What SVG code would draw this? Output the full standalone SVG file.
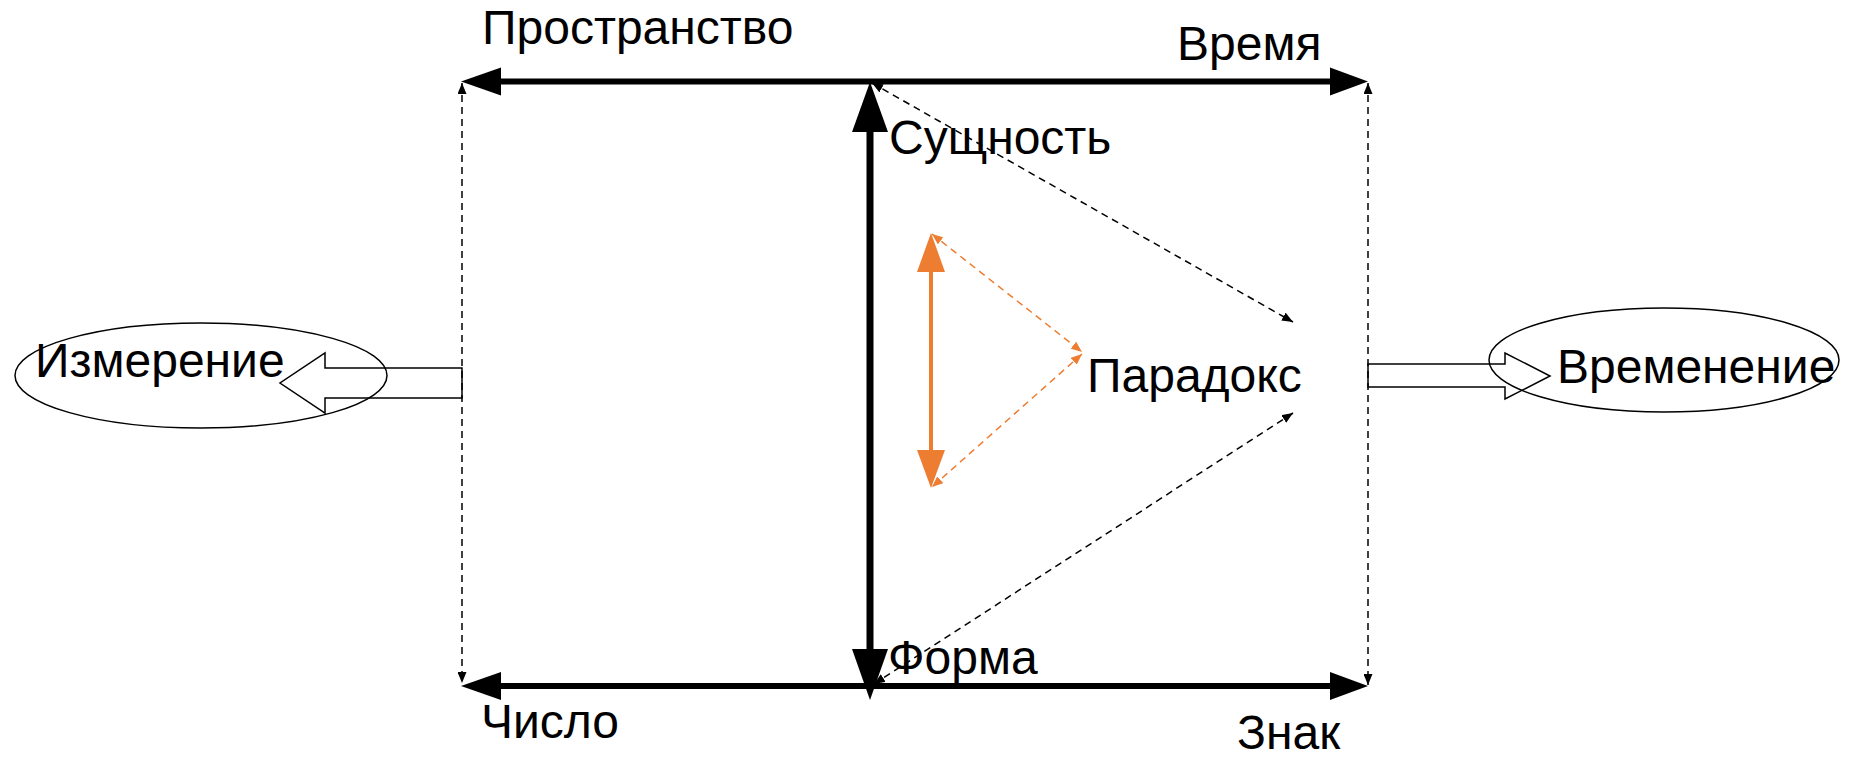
<svg xmlns="http://www.w3.org/2000/svg" width="1854" height="761" viewBox="0 0 1854 761">
<style>
text{font-family:"Liberation Sans",Arial,sans-serif;font-size:48px;fill:#000}
.thick{stroke:#000;fill:none}
.head{fill:#000;stroke:none}
.ohead{fill:#ED7D31;stroke:none}
.dash{stroke:#000;stroke-width:1.5;stroke-dasharray:7 5;fill:none}
.odash{stroke:#ED7D31;stroke-width:1.5;stroke-dasharray:7 5;fill:none}
.ell{fill:none;stroke:#000;stroke-width:1.5}
.block{fill:none;stroke:#000;stroke-width:1.5}
</style>
<defs>
<marker id="ah" markerUnits="userSpaceOnUse" markerWidth="11" markerHeight="9" refX="11" refY="4.5" orient="auto-start-reverse"><path d="M0,0 L11,4.5 L0,9 z" fill="#000"/></marker>
<marker id="oah" markerUnits="userSpaceOnUse" markerWidth="11" markerHeight="9" refX="11" refY="4.5" orient="auto-start-reverse"><path d="M0,0 L11,4.5 L0,9 z" fill="#ED7D31"/></marker>
</defs>
<rect width="1854" height="761" fill="#fff"/>
<g id="connectors">
<line class="thick" stroke-width="6" x1="500" y1="81.5" x2="1331" y2="81.5"/>
<polygon class="head" points="461,81.5 501,67.5 501,95.5"/>
<polygon class="head" points="1368,81.5 1330,67.5 1330,95.5"/>
<line class="thick" stroke-width="6" x1="500" y1="686" x2="1331" y2="686"/>
<polygon class="head" points="461,686 501,672 501,700"/>
<polygon class="head" points="1368,686 1330,672 1330,700"/>
<line class="thick" stroke-width="7" x1="870" y1="131" x2="870" y2="650"/>
<polygon class="head" points="870,82 852,132 888,132"/>
<polygon class="head" points="870,700 852,649 888,649"/>
<line class="dash" x1="462" y1="83" x2="462" y2="683" marker-start="url(#ah)" marker-end="url(#ah)"/>
<line class="dash" x1="1368" y1="83" x2="1368" y2="685" marker-start="url(#ah)" marker-end="url(#ah)"/>
<line class="dash" x1="872" y1="83" x2="1293" y2="322" marker-start="url(#ah)" marker-end="url(#ah)"/>
<line class="dash" x1="1293" y1="413" x2="874" y2="684" marker-start="url(#ah)" marker-end="url(#ah)"/>
<line stroke="#ED7D31" stroke-width="4" x1="931" y1="270" x2="931" y2="451"/>
<polygon class="ohead" points="931,233 917,272 945,272"/>
<polygon class="ohead" points="931,488 917,450 945,450"/>
<line class="odash" x1="932" y1="234" x2="1082" y2="352" marker-start="url(#oah)" marker-end="url(#oah)"/>
<line class="odash" x1="1082" y1="354" x2="932" y2="487" marker-start="url(#oah)" marker-end="url(#oah)"/>
<polygon class="block" points="462,368 325,368 325,353 280,383 325,413 325,398 462,398"/>
<polygon class="block" points="1368,364 1505,364 1505,353 1550,376 1505,399 1505,387 1368,387"/>
</g>
<g id="prostranstvo"><text x="482" y="44">Пространство</text></g>
<g id="vremya"><text x="1177" y="60">Время</text></g>
<g id="sushchnost"><text x="889" y="154">Сущность</text></g>
<g id="paradoks"><text x="1087" y="392">Парадокс</text></g>
<g id="izmerenie"><ellipse class="ell" cx="201" cy="375.5" rx="186" ry="52.5"/><text x="35" y="377">Измерение</text></g>
<g id="vremenenie"><ellipse class="ell" cx="1664" cy="360" rx="175" ry="52"/><text x="1557" y="383">Временение</text></g>
<g id="forma"><text x="888" y="674">Форма</text></g>
<g id="chislo"><text x="481" y="738">Число</text></g>
<g id="znak"><text x="1237" y="749">Знак</text></g>
</svg>
